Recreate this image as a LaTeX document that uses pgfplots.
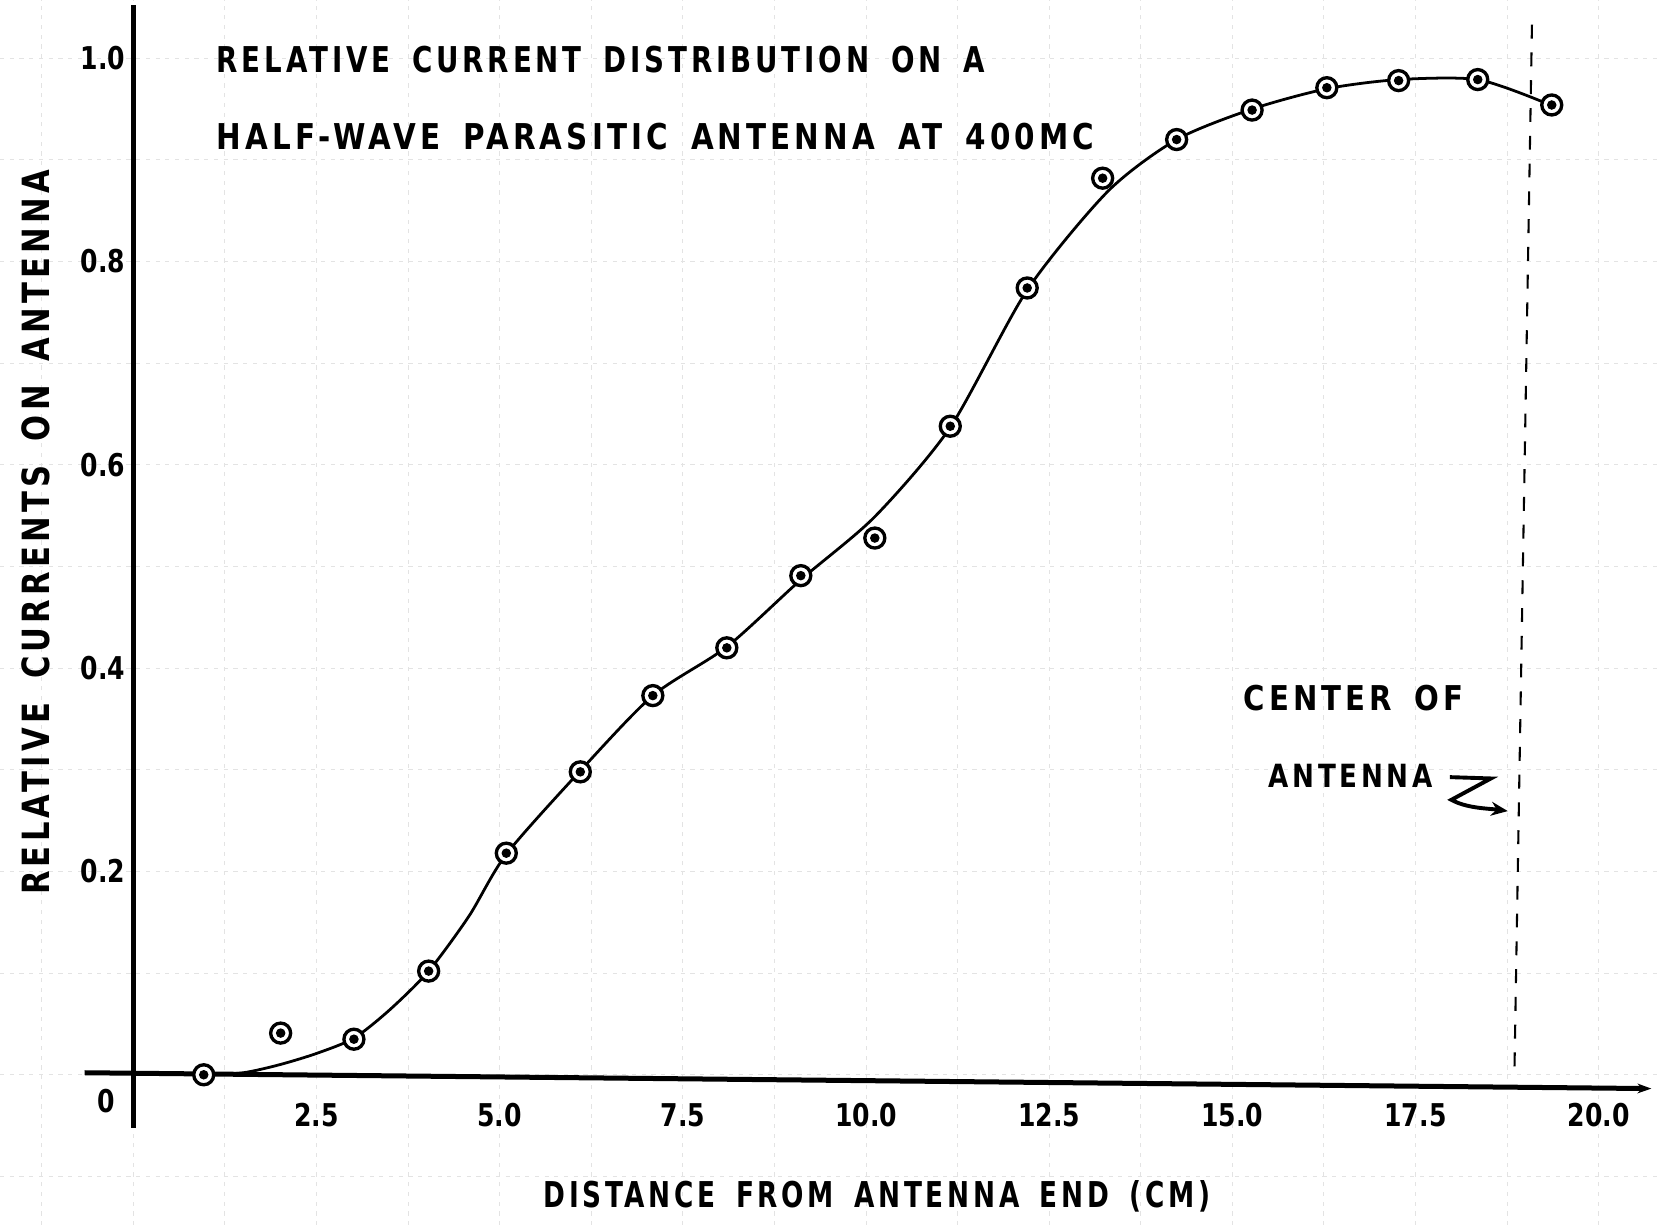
\documentclass[border=0pt]{standalone}
\usepackage{fontspec}
\setmainfont{DejaVu Sans}
\newfontfamily\lfont[LetterSpace=14,WordSpace=1.6]{DejaVu Sans}
\usepackage{graphicx}
\usepackage{pgfplots}
\pgfplotsset{compat=1.18}
\usetikzlibrary{arrows.meta}
\newcommand{\lt}[3]{\resizebox{#2}{\height}{\fontsize{#1}{#1}\lfont\bfseries #3}}
\newcommand{\tk}[1]{\scalebox{0.8}[1]{\fontsize{11.3}{12}\selectfont\bfseries #1}}

\pgfplotstableread{
x y
0.96 0.000
2.01 0.041
3.01 0.035
4.03 0.102
5.09 0.218
6.10 0.298
7.09 0.373
8.10 0.420
9.11 0.491
10.12 0.528
11.15 0.638
12.20 0.774
13.23 0.882
14.24 0.920
15.27 0.949
16.29 0.971
17.27 0.978
18.35 0.979
19.36 0.954
}\pts

\pgfplotstableread{
x y
0.96 0.000
1.50 0.002
2.00 0.010
2.50 0.021
3.01 0.036
3.50 0.064
4.03 0.102
4.58 0.156
5.09 0.217
6.10 0.299
7.09 0.373
8.10 0.421
9.11 0.487
10.12 0.549
11.15 0.637
12.20 0.772
13.30 0.869
14.24 0.920
15.27 0.950
16.29 0.970
17.27 0.979
18.35 0.979
19.24 0.957
}\curve

\begin{document}
\begin{tikzpicture}
\begin{axis}[
  x=26.37pt, y=365.9pt,
  xmin=-1.821, xmax=20.838, ymin=-0.148, ymax=1.0573,
  axis x line=middle, axis y line=middle,
  axis line style={draw=none},
  xtick={2.5,5,7.5,10,12.5,15,17.5,20},
  xticklabels={\tk{2.5},\tk{5.0},\tk{7.5},\tk{10.0},\tk{12.5},\tk{15.0},\tk{17.5},\tk{20.0}},
  minor xtick={-1.25,0,1.25,3.75,6.25,8.75,11.25,13.75,16.25,18.75},
  ytick={0.2,0.4,0.6,0.8,1.0},
  yticklabels={\tk{0.2},\tk{0.4},\tk{0.6},\tk{0.8},\tk{1.0}},
  minor ytick={-0.1,0,0.1,0.3,0.5,0.7,0.9},
  major tick length=0pt, minor tick length=0pt,
  grid=both,
  major grid style={gray!22, line width=0.35pt, dash pattern=on 1.5pt off 2pt},
  minor grid style={gray!22, line width=0.35pt, dash pattern=on 1.5pt off 2pt},
  xticklabel style={anchor=base, yshift=-18.5pt, inner sep=0pt},
  yticklabel style={anchor=east, xshift=-2.7pt, inner sep=0pt},
  clip=false,
]
% axes
\addplot[black, line width=1.6pt, forget plot] coordinates {(0,-0.052) (0,1.052)};
\addplot[black, line width=1.8pt, -{Stealth[length=5pt,width=3.5pt]}, forget plot] coordinates {(-0.665,0.002) (20.72,-0.0136)};
% center of antenna
\addplot[black, line width=0.75pt, dash pattern=on 5pt off 5pt, forget plot] coordinates {(19.09,1.033) (18.85,0)};
% fitted curve
\addplot[black, line width=1pt, smooth, tension=0.45] table {\curve};
% measured points
\addplot[only marks, mark=*, mark size=3.6pt, mark options={fill=white, draw=black, line width=1.2pt}] table {\pts};
\addplot[only marks, mark=*, mark size=1.5pt, mark options={fill=black, draw=black}] table {\pts};

\node[inner sep=0pt] at (axis cs:-0.374,-0.026) {\tk{0}};
\node[anchor=base west, inner sep=0pt] at (axis cs:1.128,0.986) {\lt{12.8}{276.5pt}{RELATIVE CURRENT DISTRIBUTION ON A}};
\node[anchor=base west, inner sep=0pt] at (axis cs:1.128,0.910) {\lt{12.8}{316pt}{HALF-WAVE PARASITIC ANTENNA AT 400MC}};
\node[anchor=base west, inner sep=0pt] at (axis cs:5.591,-0.1303) {\lt{12.8}{240pt}{DISTANCE FROM ANTENNA END (CM)}};
\node[rotate=90, inner sep=0pt] at (axis cs:-1.33,0.5336) {\lt{13.5}{261pt}{RELATIVE CURRENTS ON ANTENNA}};
\node[anchor=base west, inner sep=0pt] at (axis cs:15.146,0.3587) {\lt{12.3}{79.2pt}{CENTER OF}};
\node[anchor=base west, inner sep=0pt] at (axis cs:15.487,0.283) {\lt{11.5}{59pt}{ANTENNA}};
\draw[black, line width=1.4pt, -{Stealth[length=6pt,width=5pt]}]
  (axis cs:17.97,0.2928) -- (axis cs:18.53,0.2915) -- (axis cs:17.99,0.2705)
  .. controls (axis cs:18.2,0.262) and (axis cs:18.5,0.262) .. (axis cs:18.76,0.2594);

\coordinate (bbsw) at (axis cs:-1.821,-0.148);
\coordinate (bbne) at (axis cs:20.838,1.0573);
\end{axis}
\pgfresetboundingbox
\useasboundingbox (bbsw) rectangle (bbne);
\end{tikzpicture}
\end{document}
